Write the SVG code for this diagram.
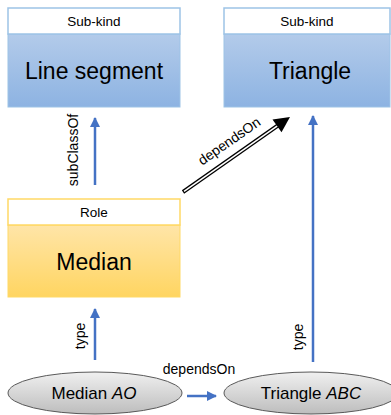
<svg xmlns="http://www.w3.org/2000/svg" width="391" height="415" viewBox="0 0 391 415">
  <defs>
    <linearGradient id="gBlue" x1="0" y1="0" x2="0" y2="1">
      <stop offset="0" stop-color="#B3CBEA"/>
      <stop offset="1" stop-color="#8DB3E2"/>
    </linearGradient>
    <linearGradient id="gGold" x1="0" y1="0" x2="0" y2="1">
      <stop offset="0" stop-color="#FFE5A8"/>
      <stop offset="1" stop-color="#FFD561"/>
    </linearGradient>
    <linearGradient id="gGray" x1="0" y1="0" x2="0" y2="1">
      <stop offset="0" stop-color="#F0F0F0"/>
      <stop offset="1" stop-color="#BDBDBD"/>
    </linearGradient>
    <marker id="ab" viewBox="0 0 10 10" refX="9" refY="5" markerWidth="4" markerHeight="4" orient="auto" markerUnits="strokeWidth">
      <path d="M0,0 L10,5 L0,10 z" fill="#4472C4"/>
    </marker>
  </defs>
  <style>
    text { font-family: "Liberation Sans", Arial, sans-serif; fill: #000; }
    .hdr { font-size: 13.5px; text-anchor: middle; }
    .big { font-size: 23px; text-anchor: middle; }
    .lbl { font-size: 14px; text-anchor: middle; }
    .inst { font-size: 17px; text-anchor: middle; }
    .bh { fill: #FFFFFF; stroke: #9DC3E6; stroke-width: 1.5; }
    .bb { fill: url(#gBlue); stroke: #9DC3E6; stroke-width: 1; }
    .gh { fill: #FFFFFF; stroke: #FFD966; stroke-width: 1.5; }
    .gb { fill: url(#gGold); stroke: #FFD966; stroke-width: 1; }
    .ell { fill: url(#gGray); stroke: #595959; stroke-width: 1; }
    .blue { stroke: #4472C4; stroke-width: 2.5; fill: none; marker-end: url(#ab); }
  </style>

  <g id="line-segment">
    <rect class="bb" x="8" y="34" width="172" height="73"/>
    <rect class="bh" x="8" y="8" width="172" height="26"/>
    <text class="hdr" x="94" y="26">Sub-kind</text>
    <text class="big" x="94" y="79">Line segment</text>
  </g>

  <g id="triangle">
    <rect class="bb" x="224" y="34" width="166" height="73"/>
    <rect class="bh" x="224" y="8" width="166" height="26"/>
    <text class="hdr" x="307" y="26">Sub-kind</text>
    <text class="big" x="310" y="79">Triangle</text>
  </g>

  <g id="median">
    <rect class="gb" x="8" y="225" width="172" height="72"/>
    <rect class="gh" x="8" y="199" width="172" height="26"/>
    <text class="hdr" x="94" y="217">Role</text>
    <text class="big" x="94" y="270">Median</text>
  </g>

  <g id="median-ao">
    <ellipse class="ell" cx="95" cy="393" rx="87" ry="21"/>
    <text class="inst" x="94" y="399">Median <tspan font-style="italic">AO</tspan></text>
  </g>

  <g id="triangle-abc">
    <ellipse class="ell" cx="311" cy="393" rx="87" ry="21"/>
    <text class="inst" x="311" y="399">Triangle <tspan font-style="italic">ABC</tspan></text>
  </g>

  <g id="connectors">
    <line class="blue" x1="95" y1="185" x2="95" y2="118"/>
    <text class="lbl" transform="translate(78,150) rotate(-90)">subClassOf</text>

    <line class="blue" x1="95" y1="360" x2="95" y2="309"/>
    <text class="lbl" transform="translate(85,336) rotate(-90)">type</text>

    <line class="blue" x1="313" y1="362" x2="313" y2="116"/>
    <text class="lbl" transform="translate(303,337) rotate(-90)">type</text>

    <line class="blue" x1="187" y1="396" x2="216" y2="396"/>
    <text class="lbl" x="199" y="374">dependsOn</text>

    <line x1="183" y1="192" x2="280" y2="124" stroke="#000" stroke-width="4"/>
    <line x1="184" y1="191.3" x2="281" y2="123.3" stroke="#FFF" stroke-width="1.6"/>
    <path d="M290,117 L272.5,119.5 L281.5,132.3 z" fill="#000"/>
    <text class="lbl" transform="translate(232,145) rotate(-35)">dependsOn</text>
  </g>
</svg>
